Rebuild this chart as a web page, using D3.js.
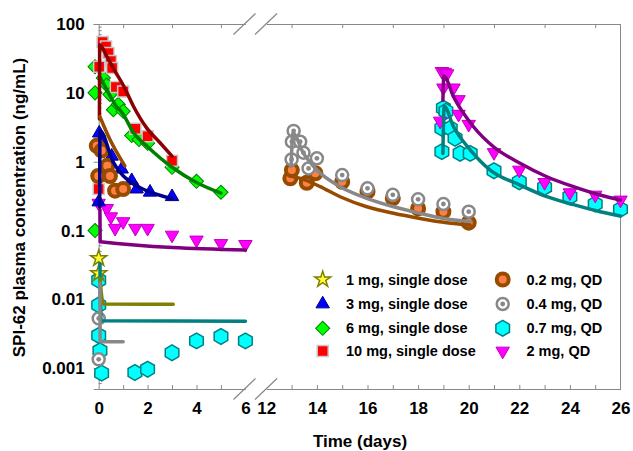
<!DOCTYPE html>
<html>
<head>
<meta charset="utf-8">
<script src="https://cdn.jsdelivr.net/npm/d3@7"></script>
<style>
  body { margin: 0; background: #fff; }
  svg { font-family: "Liberation Sans", Arial, sans-serif; font-weight: bold; }
</style>
</head>
<body>
<svg id="chart" width="633" height="451"></svg>
<script>
// Observed concentrations, [day, ng/mL]
const obs1mg = [[0, 0.0395], [0, 0.0239]];
const obs3mg = [[0, 0.26], [0.02, 2.6], [0.08, 2.0], [0.53, 1.2], [0.94, 0.78], [1.35, 0.53],
  [1.55, 0.4], [2.1, 0.36], [3, 0.31]];
const obs6mg = [[-0.15, 24], [-0.15, 10], [-0.15, 0.1], [0.19, 16.5], [0.33, 13], [0.46, 9.5],
  [0.6, 5.7], [0.8, 6.8], [1, 5.4], [1.35, 2.4], [1.65, 2.1], [2, 1.85], [3, 0.83], [4, 0.52], [5, 0.36]];
const obs10mg = [[0, 0.4], [0.02, 24], [0.16, 55], [0.3, 47], [0.4, 38], [0.5, 29], [0.55, 23],
  [0.7, 12.2], [1, 10.5], [1.5, 3.0], [2, 2.35], [3, 1.03]];
const obs02mg = [[-0.08, 1.7], [0.12, 1.45], [0.35, 0.87], [-0.02, 0.62], [0.46, 0.62], [0.67, 0.38],
  [1, 0.4], [12.95, 0.574], [13.01, 0.757], [13.6, 0.495], [13.94, 0.68], [15, 0.51], [16, 0.367],
  [17, 0.294], [18, 0.21], [19, 0.188], [20, 0.13]];
const obs04mg = [[0, 0.0053], [0, 0.00135], [13.08, 2.8], [13.01, 1.95], [13.34, 1.95], [13, 1.08],
  [13.47, 1.35], [14, 1.12], [13.67, 0.8], [15, 0.64], [16, 0.41], [17, 0.33], [18, 0.284],
  [19, 0.243], [20, 0.188]];
const obs07mg = [[0, 0.019], [0, 0.0083], [0, 0.003], [0.05, 0.0018], [0.12, 0.00085], [1.48, 0.00087],
  [2, 0.00097], [3, 0.00168], [4, 0.0025], [5, 0.0029], [6, 0.0025], [19, 6.0], [19.1, 5.4],
  [18.94, 3.06], [19.27, 3.06], [19.46, 2.19], [18.94, 1.4], [19.66, 1.32], [20.06, 1.32], [21, 0.74],
  [22, 0.51], [23, 0.425], [24, 0.31], [25, 0.243], [26, 0.204]];
const obs2mg = [[0, 0.25], [0.33, 0.21], [0.5, 0.159], [0.67, 0.108], [1, 0.135], [1.5, 0.108],
  [2, 0.108], [3, 0.086], [4, 0.073], [5, 0.065], [6, 0.063], [18.94, 20.5], [19.05, 20], [19.15, 19],
  [19, 11.8], [19.4, 11.8], [19.6, 8], [19.6, 4.9], [20, 3.5], [18.87, 3.9], [21, 1.36], [22, 0.757],
  [23, 0.5], [24, 0.355], [25, 0.328], [26, 0.278]];

// Model predictions, [day, ng/mL]
const fit1mg = [[0.05, 0.02], [0.19, 0.0086], [3.05, 0.0085]];
const fit3mg = [[0.04, 0.22], [0.05, 2.8], [0.6, 0.98], [1.42, 0.475], [1.96, 0.38], [3, 0.29]];
const fit6mg = [[0.05, 17], [0.25, 12.5], [0.67, 6.8], [1, 4.9], [1.42, 2.65], [2, 1.65], [3, 0.83],
  [4, 0.5], [5, 0.35]];
const fit10mg = [[0.03, 4.2], [0.04, 50], [0.33, 34], [0.67, 20.5], [1, 13], [1.42, 6.4], [1.96, 3.1],
  [2.5, 1.9], [3, 1.2]];
const fit02mgA = [[0.05, 4.5], [0.46, 2.1], [1.07, 0.87]];
const fit02mgB = [[12.95, 0.62], [13.5, 0.55], [14.13, 0.434], [14.92, 0.31], [15.97, 0.222],
  [17.03, 0.178], [18.08, 0.15], [19.13, 0.13], [20.06, 0.12]];
const fit04mgA = [[0.05, 0.0171], [0.06, 0.00243], [1, 0.00243]];
const fit04mgB = [[12.98, 0.85], [13.05, 2.6], [13.47, 1.32], [14, 0.757], [14.92, 0.434],
  [15.97, 0.294], [17.03, 0.222], [18.08, 0.178], [19, 0.15], [20.06, 0.135]];
const fit07mgA = [[0.05, 0.033], [0.1, 0.0049], [6, 0.0048]];
const fit07mgB = [[18.98, 1.32], [19.03, 6.4], [19.4, 3.22], [20.06, 1.49], [20.85, 0.757],
  [22.03, 0.458], [23.09, 0.31], [24.14, 0.238], [25.19, 0.188], [26, 0.163]];
const fit2mgA = [[0.05, 0.2], [0.06, 0.069], [6, 0.052]];
const fit2mgB = [[18.98, 7.8], [19.02, 17.6], [19.4, 8.76], [20.19, 3.22], [20.98, 1.65],
  [22.03, 0.95], [23.09, 0.605], [24.14, 0.434], [25.19, 0.328], [26, 0.278]];

// Axis ticks
const yTicks = [0.001, 0.01, 0.1, 1, 10, 100];
const xLabelsLeft = [0, 2, 4, 6];
const xLabelsRight = [12, 14, 16, 18, 20, 22, 24, 26];

const svg = d3.select("#chart");

const y = d3.scaleLog().domain([0.0005, 100]).range([389, 24]);
const xLeft = d3.scaleLinear().domain([0, 6]).range([98.7, 245.4]);
const xRight = d3.scaleLinear().domain([12, 26]).range([266.3, 620.5]);
const x = d => (d <= 9 ? xLeft(d) : xRight(d));

const axisColor = "#888";

// Hexagon with a point on top
const symbolHexagon = {
  draw(context, size) {
    const r = Math.sqrt(size / (3 * Math.sqrt(3) / 2));
    for (let i = 0; i < 6; i++) {
      const a = -Math.PI / 2 + i * Math.PI / 3;
      if (i === 0) context.moveTo(r * Math.cos(a), r * Math.sin(a));
      else context.lineTo(r * Math.cos(a), r * Math.sin(a));
    }
    context.closePath();
  }
};

const styles = {
  star: { type: d3.symbolStar, size: 80, fill: "#ffff33", stroke: "#808000", sw: 1.5, rot: 0 },
  up: { type: d3.symbolTriangle, size: 78, fill: "#0000ff", stroke: "#000080", sw: 1, rot: 0 },
  diamond: { type: d3.symbolSquare, size: 100, fill: "#00ff00", stroke: "#008000", sw: 1, rot: 45 },
  square: { type: d3.symbolSquare, size: 121, fill: "#ff0000", stroke: "#c8c8c8", sw: 1.5, rot: 0 },
  hex: { type: symbolHexagon, size: 160, fill: "#00ffff", stroke: "#008080", sw: 1.5, rot: 0 },
  down: { type: d3.symbolTriangle, size: 78, fill: "#ff00ff", stroke: "#c000c0", sw: 1, rot: 180 }
};

function draw_marker(g, kind, cx, cy) {
  if (kind === "brown") {
    g.append("circle").attr("cx", cx).attr("cy", cy).attr("r", 6)
      .attr("fill", "#ff8040").attr("stroke", "#964b00").attr("stroke-width", 4);
    return;
  }
  if (kind === "gray") {
    g.append("circle").attr("cx", cx).attr("cy", cy).attr("r", 6)
      .attr("fill", "#fff").attr("stroke", "#888").attr("stroke-width", 2.5);
    g.append("circle").attr("cx", cx).attr("cy", cy).attr("r", 2.4).attr("fill", "#888");
    return;
  }
  const s = styles[kind];
  g.append("path")
    .attr("d", d3.symbol().type(s.type).size(s.size)())
    .attr("transform", "translate(" + cx + "," + cy + ") rotate(" + s.rot + ")")
    .attr("fill", s.fill)
    .attr("stroke", s.stroke)
    .attr("stroke-width", s.sw);
}

// Axes frame
const frame = svg.append("g").attr("class", "axes");

// left y axis
const yAxis = d3.axisLeft(y).tickValues(yTicks).tickSize(5).tickPadding(9)
  .tickFormat(d => String(d));
frame.append("g").attr("transform", "translate(98.7,0)").call(yAxis)
  .call(g => g.select(".domain").attr("stroke", axisColor))
  .call(g => g.selectAll(".tick line").attr("stroke", axisColor))
  .call(g => g.selectAll(".tick text").attr("fill", "#000").style("font-size", "17px")
    .style("font-family", "Liberation Sans, Arial, sans-serif").style("font-weight", "bold"));

// minor y ticks, inward
const minorY = [];
for (let e = -4; e < 2; e++) {
  for (let m = 2; m <= 9; m++) {
    const v = m * Math.pow(10, e);
    if (v > 0.0005 && v < 100) minorY.push(v);
  }
}
frame.selectAll("line.minor-y").data(minorY).enter().append("line")
  .attr("class", "minor-y")
  .attr("x1", 98.7).attr("x2", 101.7)
  .attr("y1", d => y(d)).attr("y2", d => y(d))
  .attr("stroke", axisColor);

// right frame line
frame.append("line").attr("x1", 620.5).attr("x2", 620.5).attr("y1", 24).attr("y2", 389)
  .attr("stroke", axisColor);

// bottom axes with labels
function bottom_axis(scale, ticks, labels) {
  const ax = d3.axisBottom(scale).tickValues(ticks).tickSizeInner(-4).tickSizeOuter(0).tickPadding(13)
    .tickFormat(d => (labels.includes(d) ? d : ""));
  frame.append("g").attr("transform", "translate(0,389)").call(ax)
    .call(g => g.select(".domain").attr("stroke", axisColor))
    .call(g => g.selectAll(".tick line").attr("stroke", axisColor)
      .attr("display", d => (d === 0 || d === 6 || d === 12 || d === 26 ? "none" : null)))
    .call(g => g.selectAll(".tick text").attr("fill", "#000").style("font-size", "17px")
      .style("font-family", "Liberation Sans, Arial, sans-serif").style("font-weight", "bold"));
}
bottom_axis(xLeft, d3.range(0, 7), xLabelsLeft);
bottom_axis(xRight, d3.range(12, 27), xLabelsRight);

// top axes, ticks only at odd days
function top_axis(scale, ticks) {
  const ax = d3.axisTop(scale).tickValues(ticks).tickSizeInner(-4).tickSizeOuter(0).tickFormat("");
  frame.append("g").attr("transform", "translate(0,24)").call(ax)
    .call(g => g.select(".domain").attr("stroke", axisColor))
    .call(g => g.selectAll(".tick line").attr("stroke", axisColor));
}
top_axis(xLeft, [1, 3, 5]);
top_axis(xRight, [13, 15, 17, 19, 21, 23, 25]);

// axis break marks
[24, 389].forEach(function (yy) {
  [244.5, 266].forEach(function (xx) {
    frame.append("line")
      .attr("x1", xx - 11).attr("y1", yy + 10.5)
      .attr("x2", xx + 11).attr("y2", yy - 10.5)
      .attr("stroke", axisColor).attr("stroke-width", 1.2);
  });
});

// Axis titles
svg.append("text").attr("x", 360).attr("y", 446.5).attr("text-anchor", "middle")
  .style("font-size", "17px").text("Time (days)");
svg.append("text")
  .attr("transform", "translate(24.5,207.5) rotate(-90)")
  .attr("text-anchor", "middle")
  .style("font-size", "17px")
  .text("SPI-62 plasma concentration (ng/mL)");

// Observed points
const points = svg.append("g").attr("class", "points");
const pointSeries = [
  [obs07mg, "hex"], [obs1mg, "star"], [obs2mg, "down"], [obs3mg, "up"],
  [obs6mg, "diamond"], [obs10mg, "square"], [obs02mg, "brown"], [obs04mg, "gray"]
];
pointSeries.forEach(function (s) {
  s[0].forEach(function (d) {
    draw_marker(points, s[1], x(d[0]), y(d[1]));
  });
});

// Model lines
const line = d3.line().x(d => x(d[0])).y(d => y(d[1])).curve(d3.curveMonotoneX);
const lineSeries = [
  [fit07mgA, "#008080"], [fit07mgB, "#008080"], [fit1mg, "#808000"],
  [fit04mgA, "#888888"], [fit04mgB, "#888888"], [fit2mgA, "#800080"], [fit2mgB, "#800080"],
  [fit3mg, "#00008b"], [fit6mg, "#008000"], [fit10mg, "#8b0000"],
  [fit02mgA, "#964b00"], [fit02mgB, "#964b00"]
];
svg.append("g").attr("class", "lines")
  .selectAll("path").data(lineSeries).enter().append("path")
  .attr("d", d => line(d[0]))
  .attr("fill", "none")
  .attr("stroke", d => d[1])
  .attr("stroke-width", 3.5)
  .attr("stroke-linejoin", "round")
  .attr("stroke-linecap", "round");

// Legend
const legendLeft = ["1 mg, single dose", "3 mg, single dose", "6 mg, single dose", "10 mg, single dose"];
const legendLeftKinds = ["star", "up", "diamond", "square"];
const legendRight = ["0.2 mg, QD", "0.4 mg, QD", "0.7 mg, QD", "2 mg, QD"];
const legendRightKinds = ["brown", "gray", "hex", "down"];
const legendRows = [279.5, 304, 328.3, 351];

const legend = svg.append("g").attr("id", "legend");
legendLeft.forEach(function (label, i) {
  draw_marker(legend, legendLeftKinds[i], 322.7, legendRows[i]);
  legend.append("text").attr("x", 346).attr("y", legendRows[i] + 5)
    .style("font-size", "14.5px").text(label);
});
legendRight.forEach(function (label, i) {
  draw_marker(legend, legendRightKinds[i], 502.7, legendRows[i]);
  legend.append("text").attr("x", 526.5).attr("y", legendRows[i] + 5)
    .style("font-size", "14.5px").text(label);
});
</script>
</body>
</html>
